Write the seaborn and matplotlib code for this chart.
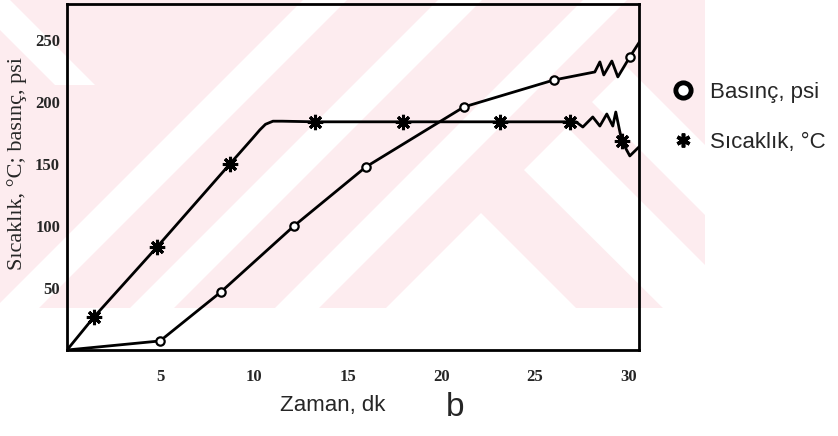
import matplotlib.pyplot as plt
from matplotlib.lines import Line2D
from matplotlib.patches import Rectangle, Polygon
import seaborn as sns

sns.set_style("white")
plt.rcParams['font.family'] = ['Liberation Serif', 'DejaVu Serif']

# Sıcaklık (temperature) curve path and measured points
sicaklik_line_x = [0, 1.44, 4.81, 8.70, 9.9, 10.3, 10.6, 11.0, 11.5, 13.24, 17.94, 23.12, 26.86,
                   27.18, 27.55, 28.08, 28.46, 28.83, 29.15, 29.31, 29.63, 30.06, 30.6]
sicaklik_line_y = [0, 26.6, 83.1, 150, 170.5, 177.5, 182, 184.5, 184.5, 184, 184, 184, 184,
                   184, 179.8, 187.9, 180.6, 190.3, 180.6, 191.9, 168.5, 156.5, 164.5]
sicaklik_pts_x = [1.44, 4.81, 8.70, 13.24, 17.94, 23.12, 26.86, 29.63]
sicaklik_pts_y = [26.6, 83.1, 150, 184, 184, 184, 184, 168.5]

# Basınç (pressure) curve path and measured points
basinc_line_x = [0, 4.97, 8.22, 12.12, 15.96, 21.2, 26.0, 28.19, 28.46, 28.67, 29.1, 29.42, 30.06, 30.6]
basinc_line_y = [0, 7.3, 46.8, 100, 147.6, 196, 217.7, 224.2, 232.3, 221.8, 233, 220.2, 236.3, 249]
basinc_pts_x = [4.97, 8.22, 12.12, 15.96, 21.2, 26.0, 30.06]
basinc_pts_y = [7.3, 46.8, 100, 147.6, 196, 217.7, 236.3]

x_ticks = [5, 10, 15, 20, 25, 30]
y_ticks = [50, 100, 150, 200, 250]

W, H = 838, 436
fig = plt.figure(figsize=(W / 100, H / 100), dpi=100)


def fx(px):
    return px / W


def fy(py):
    return 1 - py / H


def fpoly(pts, **kw):
    return Polygon([(fx(x), fy(y)) for x, y in pts], closed=True,
                   transform=fig.transFigure, **kw)


# faint pink watermark behind the chart
wm = Rectangle((0, fy(308)), fx(705), 308 / H, transform=fig.transFigure,
               facecolor='#fdecef', edgecolor='none', zorder=-2)
fig.patches.append(wm)
white_parts = []
for c in [325, 460, 605]:                       # "/" stripes around x + y = c
    a, b = c - 22, c + 22
    white_parts.append([(a, 0), (b, 0), (b - 330, 330), (a - 330, 330)])
white_parts.append([(481, 213), (366, 328), (596, 328)])            # white triangle
white_parts.append([(524, 170), (567, 127), (768, 328), (683, 328)])  # "\" stripe
white_parts.append([(592, 102), (627, 67), (888, 328), (818, 328)])   # "\" stripe
white_parts.append([(-30, 0), (10, 0), (95, 85), (55, 85)])          # top-left
for pts in white_parts:
    p = fpoly(pts, facecolor='white', edgecolor='none', zorder=-1)
    p.set_clip_path(wm)
    fig.patches.append(p)

ax = fig.add_axes([fx(67), fy(350), 572 / W, 346 / H])
ax.set_facecolor('none')

sns.lineplot(x=sicaklik_line_x, y=sicaklik_line_y, sort=False, estimator=None,
             color='black', linewidth=2, ax=ax)
sns.lineplot(x=basinc_line_x, y=basinc_line_y, sort=False, estimator=None,
             color='black', linewidth=2, ax=ax)

ax.plot(sicaklik_pts_x, sicaklik_pts_y, ls='none', marker=(8, 2, 0), color='black',
        ms=11, mew=2.2, zorder=4)
ax.plot(basinc_pts_x, basinc_pts_y, ls='none', marker='o', mfc='white', mec='black',
        ms=6, mew=1.6, zorder=4)

ax.set_xlim(0, 30.55)
ax.set_ylim(0, 279)
ax.set_xticks(x_ticks)
ax.set_yticks(y_ticks)
ax.tick_params(axis='x', direction='inout', length=7, width=1.5, pad=10, labelsize=12)
ax.tick_params(axis='y', length=0, pad=5, labelsize=12)
for lbl in ax.get_xticklabels() + ax.get_yticklabels():
    lbl.set_fontweight('bold')

for sp in ax.spines.values():
    sp.set_color('black')
    sp.set_linewidth(2)

ax.set_ylabel("Sıcaklık, °C; basınç, psi", fontsize=16)
ax.yaxis.set_label_coords(-0.07, 0.54)

handles = [
    Line2D([], [], ls='none', marker='o', mfc='white', mec='black', mew=3.5, ms=11),
    Line2D([], [], ls='none', marker=(6, 2, 0), color='black', mew=2.6, ms=10),
]
fig.legend(handles, ['Basınç, psi', 'Sıcaklık, °C'], loc='upper left',
           bbox_to_anchor=(fx(650), fy(62)), frameon=False,
           prop={'family': 'Liberation Sans', 'size': 16},
           labelspacing=1.3, handletextpad=0.6, handlelength=1.2)

fig.text(fx(333), fy(405), 'Zaman, dk', family='Liberation Sans', fontsize=16,
         ha='center', va='center')
fig.text(fx(455), fy(407), 'b', family='Liberation Sans', fontsize=24,
         ha='center', va='center')

fig.savefig('out.png', dpi=100, facecolor='white')
